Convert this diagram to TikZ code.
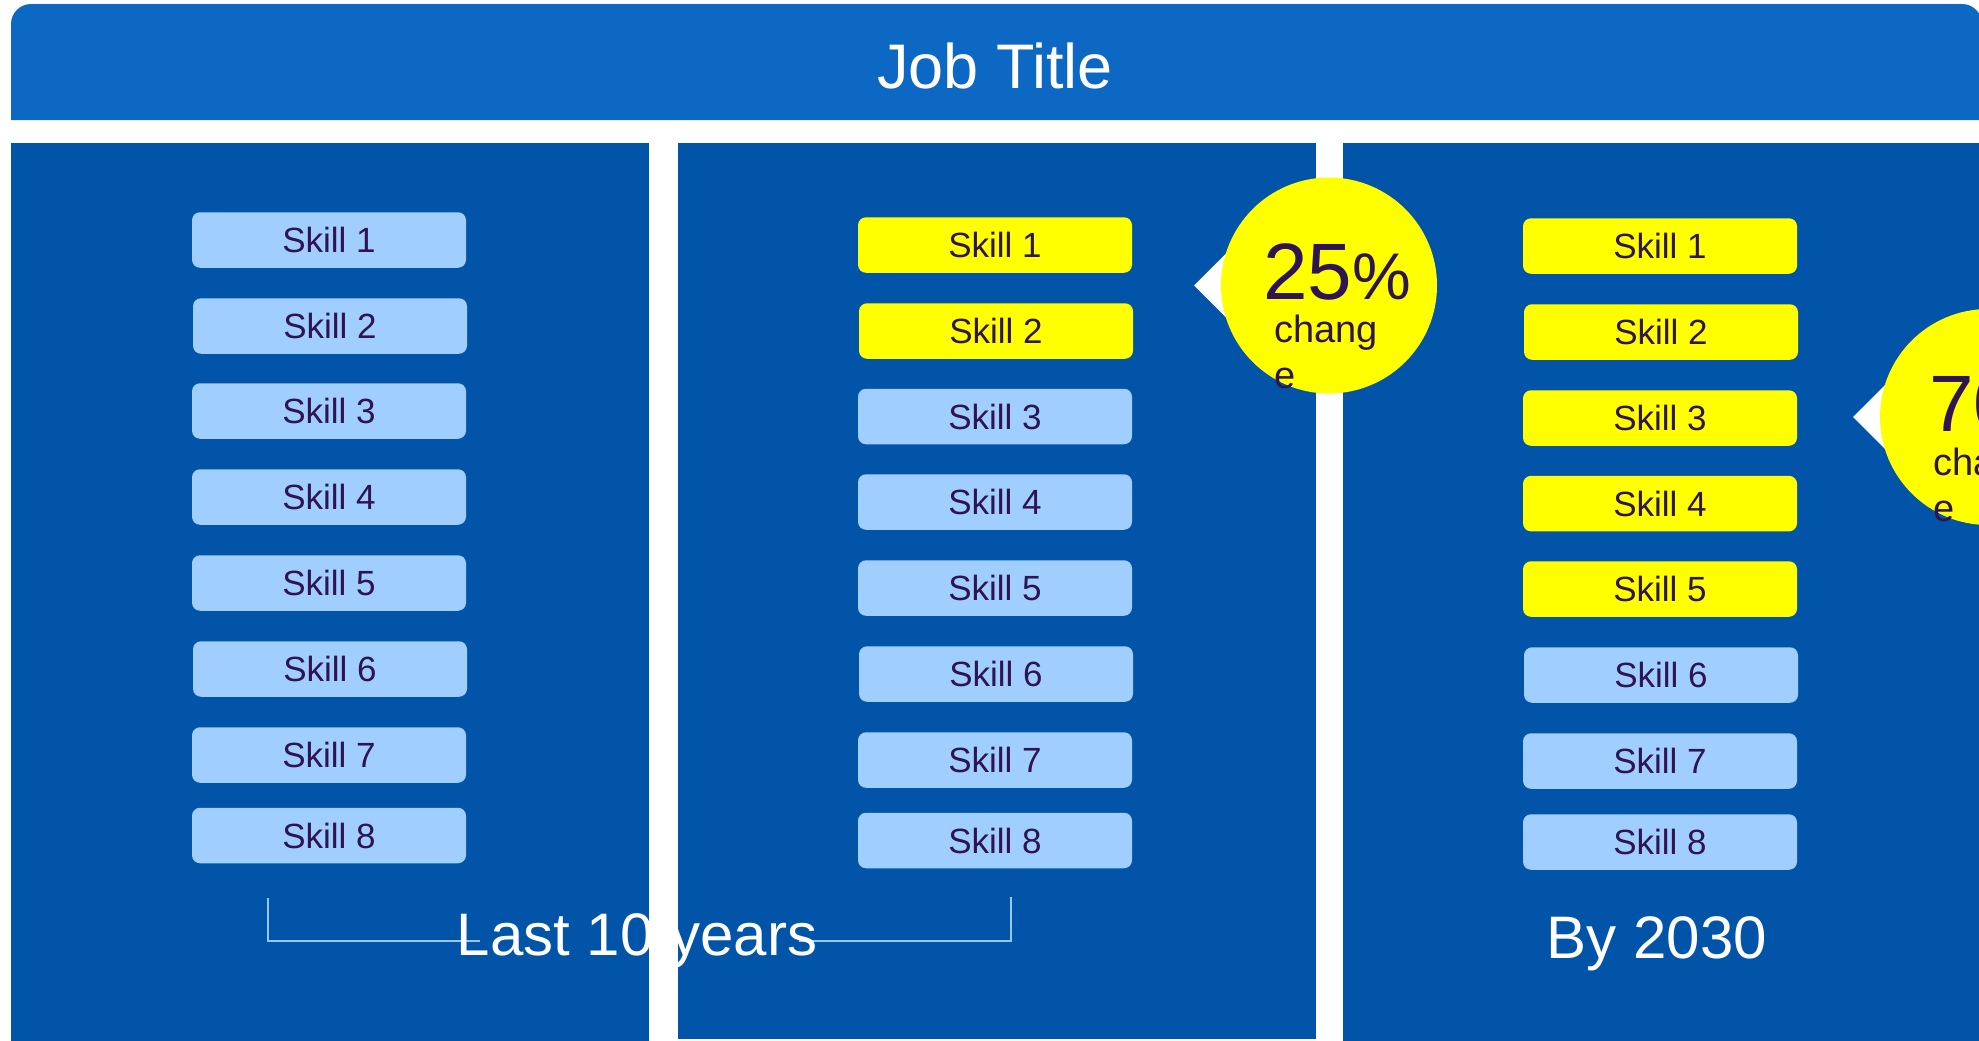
\documentclass[tikz,border=0pt]{standalone}
\usepackage{fontspec}
\setmainfont{Liberation Sans}
\usetikzlibrary{calc}
\definecolor{headblue}{RGB}{13,104,195}
\definecolor{panelblue}{RGB}{2,84,168}
\definecolor{skillblue}{RGB}{160,206,255}
\definecolor{skillyellow}{RGB}{255,255,0}
\definecolor{inkpurple}{RGB}{46,20,80}
\definecolor{bracketblue}{RGB}{150,198,250}
\begin{document}
\begin{tikzpicture}[x=0.5pt,y=-0.5pt,
  panel/.style={fill=panelblue},
  skillbox/.style={rounded corners=4pt, minimum width=137pt, minimum height=27.75pt,
    inner sep=0pt, text=inkpurple, font=\fontsize{17.5pt}{20pt}\selectfont,
    text height=12.5pt, text depth=0pt},
  lightskill/.style={skillbox, fill=skillblue},
  hotskill/.style={skillbox, fill=skillyellow},
  bubble/.style={circle, fill=skillyellow, minimum size=108pt, inner sep=0pt},
  pointer/.style={fill=white},
  bigpct/.style={anchor=base west, inner sep=0pt, text=inkpurple, font=\fontsize{40pt}{40pt}\selectfont},
  smalltxt/.style={anchor=base west, inner sep=0pt, text=inkpurple, font=\fontsize{19pt}{20pt}\selectfont},
  caption/.style={anchor=base, inner sep=0pt, text=white, font=\fontsize{30pt}{32pt}\selectfont},
  bracket/.style={draw=bracketblue, line width=1pt}
]
\useasboundingbox (0,0) rectangle (1979,1040);
\clip (0,0) rectangle (1979,1040);
\fill[white] (0,0) rectangle (1979,1040);

% header
\fill[headblue] (11,120) [rounded corners=10pt] -- (11,4) -- (1982,4) [sharp corners] -- (1982,120) -- cycle;
\node[anchor=base, inner sep=0pt, text=white, font=\fontsize{31.5pt}{34pt}\selectfont] (title) at (995,88) {Job Title};

% panels
\fill[panel] (11,143) rectangle (649,1045);
\fill[panel] (678,143) rectangle (1316,1038.5);
\fill[panel] (1343,143) rectangle (1995,1045);

% panel 1 skills
\foreach \i/\x/\y in {1/329/240, 2/330/326, 3/329/411, 4/329/497, 5/329/583, 6/330/669, 7/329/755, 8/329/835.5}
  \node[lightskill] (pa\i) at (\x,\y) {Skill \i};

% panel 2 skills
\foreach \i/\x/\y in {1/995/245, 2/996/331}
  \node[hotskill] (pb\i) at (\x,\y) {Skill \i};
\foreach \i/\x/\y in {3/995/416.5, 4/995/502, 5/995/588, 6/996/674, 7/995/760, 8/995/840.5}
  \node[lightskill] (pb\i) at (\x,\y) {Skill \i};

% panel 3 skills
\foreach \i/\x/\y in {1/1660/246, 2/1661/332, 3/1660/418, 4/1660/503.6, 5/1660/589}
  \node[hotskill] (pc\i) at (\x,\y) {Skill \i};
\foreach \i/\x/\y in {6/1661/675, 7/1660/761, 8/1660/842}
  \node[lightskill] (pc\i) at (\x,\y) {Skill \i};

% bubble 1
\coordinate (c1) at (1329,285.5);
\fill[pointer] ($(c1)+(-135,0)$) -- ($(c1)+(-60,-75)$) -- ($(c1)+(-60,75)$) -- cycle;
\node[bubble] (b1) at (c1) {};
\node[bigpct] (pct1) at (1263,299) {25\fontsize{33pt}{33pt}\selectfont\%};
\node[smalltxt] (cha1) at (1274,342) {chang};
\node[smalltxt] (chb1) at (1274,388) {e};

% bubble 2
\coordinate (c2) at (1988,417);
\fill[pointer] ($(c2)+(-135,0)$) -- ($(c2)+(-60,-75)$) -- ($(c2)+(-60,75)$) -- cycle;
\node[bubble] (b2) at (c2) {};
\node[bigpct] (pct2) at (1929,431.5) {70\fontsize{33pt}{33pt}\selectfont\%};
\node[smalltxt] (cha2) at (1933,475) {chang};
\node[smalltxt] (chb2) at (1933,521) {e};

% bracket
\coordinate (bl1) at (268,898);
\coordinate (bl2) at (480,941);
\coordinate (br1) at (1011,897);
\coordinate (br2) at (799,941);
\draw[bracket] (bl1) |- (bl2);
\draw[bracket] (br1) |- (br2);

% captions
\node[caption] (last) at (637,955) {Last 10 years};
\node[caption] (by) at (1657,958) {By 2030};
\end{tikzpicture}
\end{document}
